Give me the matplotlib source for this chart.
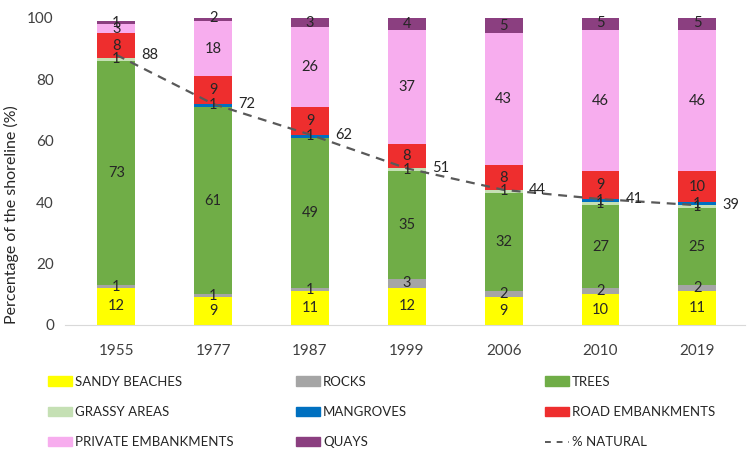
import matplotlib
matplotlib.use('Agg')
import matplotlib.pyplot as plt
import matplotlib.patches as mpatches
import matplotlib.lines as mlines
import numpy as np

plt.rcParams['font.family'] = ['Lato', 'DejaVu Sans']

years = ['1955', '1977', '1987', '1999', '2006', '2010', '2019']

sandy = [12, 9, 11, 12, 9, 10, 11]
rocks = [1, 1, 1, 3, 2, 2, 2]
trees = [73, 61, 49, 35, 32, 27, 25]
grassy = [1, 0, 0, 1, 1, 1, 1]
mangroves = [0, 1, 1, 0, 0, 1, 1]
road = [8, 9, 9, 8, 8, 9, 10]
private = [3, 18, 26, 37, 43, 46, 46]
quays = [1, 2, 3, 4, 5, 5, 5]
natural = [88, 72, 62, 51, 44, 41, 39]

series = [
    ('SANDY BEACHES', sandy, '#FFFF00'),
    ('ROCKS', rocks, '#A5A5A5'),
    ('TREES', trees, '#70AD47'),
    ('GRASSY AREAS', grassy, '#C5E0B4'),
    ('MANGROVES', mangroves, '#0070C0'),
    ('ROAD EMBANKMENTS', road, '#EE2E2E'),
    ('PRIVATE EMBANKMENTS', private, '#F7ADEE'),
    ('QUAYS', quays, '#8B3F80'),
]

txt_col = '#262626'

fig = plt.figure(figsize=(7.47, 4.5), dpi=100)
ax = fig.add_axes([0.087, 0.278, 0.910, 0.682])

x = np.arange(len(years))
bottom = np.zeros(len(years))
handles = {}
for name, vals, col in series:
    vals = np.array(vals, dtype=float)
    ax.bar(x, vals, width=0.39, bottom=bottom, color=col, zorder=2)
    handles[name] = mpatches.Patch(color=col, label=name)
    for xi, b, v in zip(x, bottom, vals):
        if v > 0:
            ax.text(xi, b + v / 2, '{:d}'.format(int(v)), ha='center', va='center',
                    fontsize=10.5, color=txt_col, zorder=4)
    bottom += vals

ax.plot(x, natural, linestyle=(0, (4, 3)), color='#595959', linewidth=1.6, zorder=3)
for xi, v in zip(x, natural):
    ax.text(xi + 0.26, v, str(v), ha='left', va='center', fontsize=10.5,
            color=txt_col, zorder=4)
handles['% NATURAL'] = mlines.Line2D([], [], linestyle=(0, (3, 3)), color='#595959',
                                     linewidth=1.4, label='% NATURAL')

ax.set_xlim(-0.53, 6.49)
ax.set_ylim(0, 100)
ax.set_yticks(range(0, 101, 20))
ax.set_xticks(x)
ax.set_xticklabels(years)
ax.tick_params(axis='both', length=0, labelsize=11, colors='#404040')
ax.tick_params(axis='x', pad=14)
ax.tick_params(axis='y', pad=8)
for s in ['top', 'right', 'left']:
    ax.spines[s].set_visible(False)
ax.spines['bottom'].set_color('#D9D9D9')
ax.set_ylabel('Percentage of the shoreline (%)', fontsize=11.5, color=txt_col)
ax.yaxis.set_label_coords(-0.068, 0.36)

# legend laid out in three columns like the original
cols = [
    (['SANDY BEACHES', 'GRASSY AREAS', 'PRIVATE EMBANKMENTS'], 48),
    (['ROCKS', 'MANGROVES', 'QUAYS'], 296),
    (['TREES', 'ROAD EMBANKMENTS', '% NATURAL'], 545),
]
for names, px in cols:
    leg = fig.legend(handles=[handles[n] for n in names], loc='center left',
                     bbox_to_anchor=(px / 747, 1 - 412 / 450), frameon=False,
                     fontsize=9.5, borderpad=0, borderaxespad=0, handlelength=1.85,
                     handleheight=0.7, handletextpad=0.2, labelspacing=1.4)
    for t in leg.get_texts():
        t.set_color(txt_col)

fig.savefig('out.png', dpi=100)
